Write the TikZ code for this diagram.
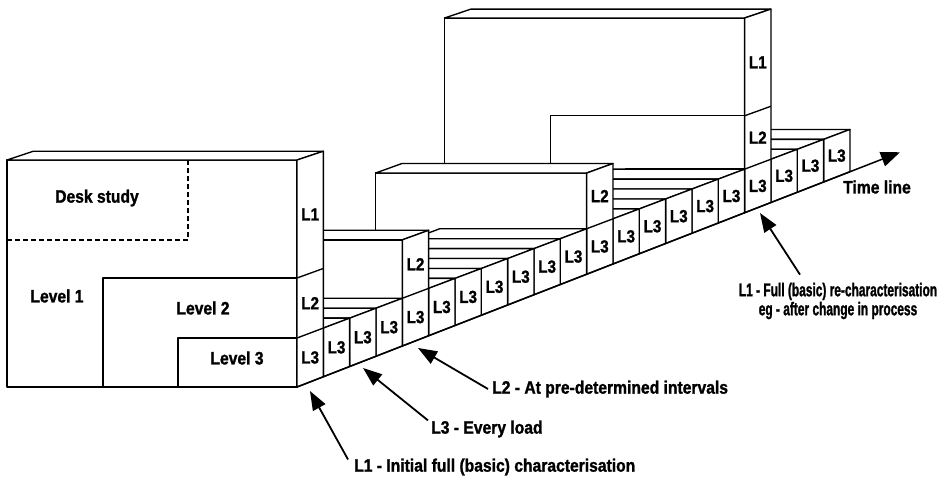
\documentclass[tikz,border=0pt]{standalone}
\usepackage{fontspec}
\setmainfont{Liberation Sans}[FakeStretch=0.87, BoldFeatures={FakeBold=1.3}]
\newfontfamily\narrowfont{Liberation Sans}[FakeStretch=0.645, BoldFeatures={FakeBold=1.3}]
\usetikzlibrary{arrows.meta}

% Oblique view: X runs across the front faces, Z is height,
% T counts load slots along the time line (heights shrink slightly with depth).
\newcommand\ob[3]{({#1+26.33*(#3)},{387-10.25*(#3)-(#2)*(1-0.0065*(#3))})}

\tikzset{
  facet/.style={draw=black, fill=white, line width=1.35pt, line join=round},
  rim/.style={draw=black, line width=1.35pt, line join=round},
  bandlab/.style={font=\bfseries\fontsize{17.5}{17.5}\selectfont, inner sep=0pt},
  levellab/.style={font=\bfseries\fontsize{18}{18}\selectfont, inner sep=0pt},
  note/.style={font=\bfseries\fontsize{18}{20}\selectfont, inner sep=0pt},
  rnote/.style={font=\narrowfont\bfseries\fontsize{18.5}{19}\selectfont, inner sep=0pt, align=center},
  pointer/.style={line width=1.8pt, -{Triangle[length=19pt,width=14pt]}},
}

% one box standing in slot #1, front face from X=#2 to X=297, height #3
\newcommand\slotbox[3]{%
  \pgfmathsetmacro\Tb{#1+1}%
  \path[facet] \ob{#2}{0}{#1} -- \ob{297}{0}{#1} -- \ob{297}{#3}{#1} -- \ob{#2}{#3}{#1} -- cycle;
  \path[facet] \ob{#2}{#3}{#1} -- \ob{297}{#3}{#1} -- \ob{297}{#3}{\Tb} -- \ob{#2}{#3}{\Tb} -- cycle;
  \path[facet] \ob{297}{0}{#1} -- \ob{297}{0}{\Tb} -- \ob{297}{#3}{\Tb} -- \ob{297}{#3}{#1} -- cycle;
}
% band divider on the side face of slot #1 at height #2
\newcommand\sideline[2]{%
  \pgfmathsetmacro\Tb{#1+1}%
  \draw[rim] \ob{297}{#2}{#1} -- \ob{297}{#2}{\Tb};
}
% label in the side-face band of slot #1 between heights #2 and #3
\newcommand\bandlabel[5]{%
  \pgfmathsetmacro\Tm{#1+0.5}%
  \pgfmathsetmacro\Zm{(#2+#3)/2}%
  \path \ob{297}{\Zm}{\Tm} node[bandlab] (#5) {#4};
}
% Level 3 characterisation only
\newcommand\loadslot[1]{%
  \slotbox{#1}{150}{49}%
  \bandlabel{#1}{0}{49}{L3}{s#1c}%
}
% Level 2 characterisation (with Level 3)
\newcommand\intervalslot[2]{%
  \slotbox{#1}{#2}{109}%
  \draw[rim] \ob{178}{0}{#1} -- \ob{178}{49}{#1} -- \ob{297}{49}{#1};
  \sideline{#1}{49}%
  \bandlabel{#1}{0}{49}{L3}{m#1c}%
  \bandlabel{#1}{49}{109}{L2}{m#1b}%
}
% full Level 1 characterisation
\newcommand\fullslot[3]{%
  \slotbox{#1}{#2}{#3}%
  \draw[rim] \ob{103}{0}{#1} -- \ob{103}{109}{#1} -- \ob{297}{109}{#1};
  \draw[rim] \ob{178}{0}{#1} -- \ob{178}{49}{#1} -- \ob{297}{49}{#1};
  \sideline{#1}{49}\sideline{#1}{109}%
  \bandlabel{#1}{0}{49}{L3}{f#1c}%
  \bandlabel{#1}{49}{109}{L2}{f#1b}%
  \bandlabel{#1}{109}{#3}{L1}{f#1a}%
}

\begin{document}
\begin{tikzpicture}[x=1pt,y=-1pt]
\useasboundingbox[fill=white] (0,0) rectangle (947,479);

% far slots first, nearer ones are drawn over them
\foreach \k in {20,19,18}{\loadslot{\k}}
\fullslot{17}{-3}{219}
\foreach \k in {16,...,12}{\loadslot{\k}}
\intervalslot{11}{86}
\foreach \k in {10,...,5}{\loadslot{\k}}
\intervalslot{4}{103}
\foreach \k in {3,2,1}{\loadslot{\k}}
\fullslot{0}{7}{227}

% desk study part of the initial characterisation
\draw[rim, dash pattern=on 5pt off 3pt] \ob{7}{147}{0} -- \ob{188}{147}{0} -- \ob{188}{227}{0};
\node[levellab] (desk) at (97,198) {Desk study};
\node[levellab] (lev1) at (57,296) {Level 1};
\node[levellab] (lev2) at (203,308) {Level 2};
\node[levellab] (lev3) at (237,358) {Level 3};

% time line along the bottom of the slots
\path \ob{297}{0}{0} coordinate (tstart);
\path \ob{297}{0}{22.9} coordinate (tend);
\draw[line width=1.5pt, -{Triangle[length=19pt,width=15pt]}] (tstart) -- (tend);
\node[note, anchor=west] (tline) at (843,187) {Time line};

% annotations
\coordinate (tipA) at (310,391);
\coordinate (tipB) at (363,368);
\coordinate (tipC) at (418,348);
\coordinate (tipD) at (760,213);

\node[note, anchor=west] (noteA) at (354,467) {L1 - Initial full (basic) characterisation};
\node[note, anchor=west] (noteB) at (431,429) {L3 - Every load};
\node[note, anchor=west] (noteC) at (492,389) {L2 - At pre-determined intervals};
\node[rnote] (noteD) at (838,301) {L1 - Full (basic) re-characterisation\\eg - after change in process};

\draw[pointer] ([xshift=-6pt,yshift=-1pt]noteA.north west) -- (tipA);
\draw[pointer] ([xshift=-3pt]noteB.north west) -- (tipB);
\draw[pointer] ([xshift=-4pt]noteC.west) -- (tipC);
\draw[pointer] ([xshift=-38pt,yshift=8pt]noteD.north) -- (tipD);
\end{tikzpicture}
\end{document}
